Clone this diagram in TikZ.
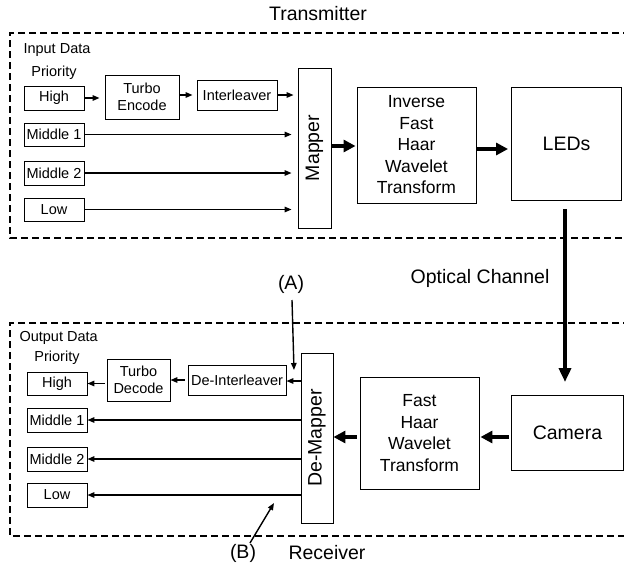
\documentclass[tikz,border=0pt]{standalone}
\usepackage{fontspec}
\setmainfont{Liberation Sans}
\usetikzlibrary{arrows.meta}
\begin{document}
\begin{tikzpicture}[x=1pt,y=-1pt,
  box/.style={draw,line width=0.9pt,inner sep=0pt,align=center},
  small/.style={font=\fontsize{14.5}{16.7}\selectfont},
  big/.style={font=\fontsize{19.5}{22}\selectfont},
  xform/.style={font=\fontsize{17.5}{21.5}\selectfont},
  frame/.style={line width=1.8pt,dash pattern=on 7pt off 4pt},
  thin/.style={line width=1.4pt,-{Triangle[length=7pt,width=5.5pt]}},
  thick/.style={line width=4pt,-{Triangle[length=12pt,width=12pt]}},
  vthick/.style={line width=3.5pt,-{Triangle[length=14pt,width=12pt]}}]
\useasboundingbox (0,0) rectangle (624,573);

% dashed enclosures
\draw[frame] (630,33) -- (10,33) -- (10,238) -- (630,238);
\draw[frame] (630,323) -- (10,323) -- (10,536) -- (630,536);

% ---------- transmitter ----------
\node[big] (tx) at (318,14) {Transmitter};
\node[small,anchor=west] (indata) at (20,50) {Input Data};
\node[small] (inprio) at (54,73) {Priority};
\node[box,small,minimum width=60pt,minimum height=24pt] (hiIn) at (54,98) {High};
\node[box,small,minimum width=60pt,minimum height=23pt] (m1In) at (54,134.5) {Middle 1};
\node[box,small,minimum width=60pt,minimum height=24pt] (m2In) at (54,173) {Middle 2};
\node[box,small,minimum width=60pt,minimum height=23pt] (lowIn) at (54,209.5) {Low};
\node[box,small,minimum width=74pt,minimum height=44pt] (tenc) at (142,97) {Turbo\\Encode};
\node[box,small,minimum width=80pt,minimum height=30pt] (inter) at (237,95) {Interleaver};
\node[box,big,minimum width=33pt,minimum height=160pt] (mapper) at (314.5,148) {};
\node[big,rotate=90] at (mapper.center) {Mapper};
\node[box,xform,minimum width=119pt,minimum height=116pt] (ifhwt) at (416.5,145) {Inverse\\Fast\\Haar\\Wavelet\\Transform};
\node[box,big,minimum width=110pt,minimum height=113pt] (leds) at (566.5,143.5) {LEDs};

\draw[thin,shorten >=5pt] (hiIn.east) -- (hiIn.east -| tenc.west);
\draw[thin,shorten >=4pt] (tenc.east |- inter.west) -- (inter.west);
\draw[thin,shorten >=4pt] (inter.east) -- (inter.east -| mapper.west);
\draw[thin,shorten >=6pt] (m1In.east) -- (m1In.east -| mapper.west);
\draw[thin,shorten >=6pt] (m2In.east) -- (m2In.east -| mapper.west);
\draw[thin,shorten >=6pt] (lowIn.east) -- (lowIn.east -| mapper.west);
\draw[thick,shorten >=1pt] (mapper.east |- 0,146) -- (ifhwt.west |- 0,146);
\draw[thick,shorten >=3pt] (ifhwt.east |- 0,149) -- (leds.west |- 0,149);

% ---------- optical channel ----------
\coordinate (chTop) at (565,209);
\coordinate (chEnd) at (565,382);
\draw[vthick] (chTop) -- (chEnd);
\node[big] (och) at (480,278) {Optical Channel};

% ---------- receiver ----------
\node[big] (rx) at (327,553) {Receiver};
\node[small,anchor=west] (outdata) at (16,338) {Output Data};
\node[small] (outprio) at (57,358) {Priority};
\node[box,small,minimum width=60pt,minimum height=23pt] (hiOut) at (57,383.5) {High};
\node[box,small,minimum width=60pt,minimum height=24pt] (m1Out) at (57,420) {Middle 1};
\node[box,small,minimum width=60pt,minimum height=24pt] (m2Out) at (57,459) {Middle 2};
\node[box,small,minimum width=60pt,minimum height=24pt] (lowOut) at (57,495) {Low};
\node[box,small,minimum width=63pt,minimum height=42pt] (tdec) at (138.5,380) {Turbo\\Decode};
\node[box,small,minimum width=98pt,minimum height=30pt] (deint) at (237,380) {De-Interleaver};
\node[box,big,minimum width=32pt,minimum height=170pt] (demap) at (317,438) {};
\node[big,rotate=90] at (demap.center) {De-Mapper};
\node[box,xform,minimum width=119pt,minimum height=112pt] (fhwt) at (419.5,433) {Fast\\Haar\\Wavelet\\Transform};
\node[box,big,minimum width=112pt,minimum height=75pt] (cam) at (567.5,432.5) {Camera};

\draw[thin] (demap.west |- 0,381) -- (deint.east |- 0,381);
\draw[thin,shorten <=3pt] (deint.west) -- (deint.west -| tdec.east);
\draw[thin,shorten <=2pt] (tdec.west |- hiOut.east) -- (hiOut.east);
\draw[thin] (demap.west |- m1Out.east) -- (m1Out.east);
\draw[thin] (demap.west |- m2Out.east) -- (m2Out.east);
\draw[thin] (demap.west |- lowOut.east) -- (lowOut.east);
\draw[thick,shorten <=2pt,shorten >=1pt] (cam.west |- 0,437) -- (fhwt.east |- 0,437);
\draw[thick,shorten <=3pt] (fhwt.west |- 0,437) -- (demap.east |- 0,437);

% probe points
\node[big] (pA) at (291,284) {(A)};
\coordinate (aTip) at (294,370);
\draw[thin] (292,300) -- (aTip);
\node[big] (pB) at (243,553) {(B)};
\coordinate (bTip) at (274,503);
\draw[thin] (250,543) -- (bTip);
\end{tikzpicture}
\end{document}
